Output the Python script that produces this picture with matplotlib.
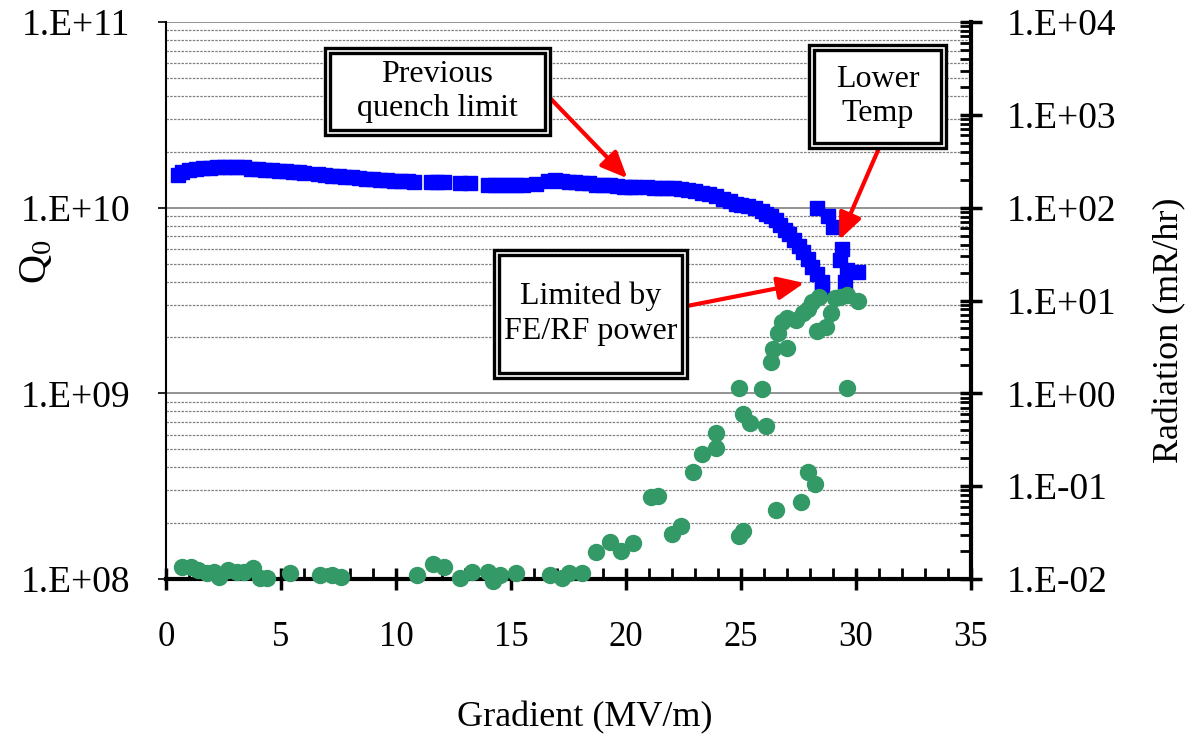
import numpy as np
import matplotlib
matplotlib.use("Agg")
import matplotlib.pyplot as plt
from matplotlib.patches import Rectangle
from matplotlib.ticker import FixedLocator, MultipleLocator, FuncFormatter

plt.rcParams['font.family'] = ['Liberation Serif', 'DejaVu Serif']
plt.rcParams['mathtext.default'] = 'regular'

# Q0 vs gradient (blue squares)
q_grad = [0.5, 0.7, 1.0, 1.3, 1.6, 1.9, 2.2, 2.5, 2.8, 3.1, 3.4, 3.7, 4.0, 4.3, 4.6,
          4.9, 5.2, 5.5, 5.8, 6.0, 6.6, 6.9, 7.2, 7.5, 7.8, 8.1, 8.4, 8.7, 9.0, 9.3,
          9.6, 9.9, 10.2, 10.5, 10.8, 11.5, 11.8, 12.1, 12.8, 13.2, 14.0, 14.3, 14.6,
          14.9, 15.2, 15.5, 16.1, 16.6, 16.9, 17.2, 17.5, 17.8, 18.1, 18.4, 18.7, 19.0,
          19.3, 19.6, 19.9, 20.2, 20.4, 20.9, 21.2, 21.5, 21.8, 22.1, 22.4, 22.7, 23.0,
          23.3, 23.6, 23.9, 24.2, 24.5, 24.8, 25.0, 25.3, 25.6, 25.9, 26.1, 26.3, 26.5,
          26.7, 26.9, 27.1, 27.3, 27.5, 27.7, 27.9, 28.1, 28.3, 28.5, 28.5,
          28.3, 28.8, 29.0, 29.4, 29.3, 29.6, 29.5, 30.1]
q_vals = [1.50, 1.55, 1.59, 1.62, 1.63, 1.64, 1.65, 1.66, 1.66, 1.66, 1.65, 1.62, 1.61,
          1.60, 1.59, 1.58, 1.57, 1.56, 1.55, 1.54, 1.51, 1.50, 1.49, 1.48, 1.47, 1.46,
          1.44, 1.43, 1.42, 1.41, 1.41, 1.40, 1.39, 1.39, 1.38, 1.37, 1.37, 1.37, 1.35,
          1.35, 1.32, 1.32, 1.33, 1.33, 1.33, 1.33, 1.34, 1.40, 1.41, 1.40, 1.38, 1.37,
          1.36, 1.35, 1.33, 1.32, 1.32, 1.31, 1.30, 1.30, 1.30, 1.29, 1.28, 1.28, 1.28,
          1.28, 1.26, 1.24, 1.23, 1.20, 1.18, 1.15, 1.12, 1.09, 1.05, 1.03, 1.02, 1.00,
          0.96, 0.93, 0.90, 0.86, 0.81, 0.76, 0.72, 0.67, 0.62, 0.58, 0.53, 0.48, 0.44,
          0.40, 0.37,
          1.00, 0.90, 0.79, 0.60, 0.52, 0.46, 0.40, 0.45]
q_vals = [v * 1e10 for v in q_vals]

# radiation vs gradient (green circles)
r_grad = [0.7, 1.1, 1.4, 1.8, 2.1, 2.3, 2.7, 3.1, 3.4, 3.8, 4.1, 4.4, 5.4, 6.7, 7.2,
          7.6, 10.9, 11.6, 12.1, 12.8, 13.3, 14.0, 14.2, 14.5, 15.2, 16.7, 17.2, 17.5,
          18.1, 18.7, 19.3, 19.8, 20.3, 21.1, 21.4, 22.0, 22.4, 22.9, 23.3, 23.9, 23.9,
          24.9, 25.1, 24.9, 25.1, 25.4, 25.9, 26.1, 26.5, 26.3, 26.4, 27.0, 26.6, 26.8,
          27.0, 27.4, 27.7, 27.9, 28.1, 28.4, 27.6, 27.9, 28.2, 28.3, 28.7, 28.9, 29.1,
          29.3, 29.6, 29.6, 30.1]
r_vals = [0.0135, 0.0135, 0.0125, 0.0116, 0.0119, 0.0105, 0.0125, 0.0119, 0.0119,
          0.0131, 0.0103, 0.0103, 0.0116, 0.0110, 0.0110, 0.0105, 0.0110, 0.0145,
          0.0135, 0.0103, 0.0119, 0.0119, 0.0095, 0.0110, 0.0116, 0.0110, 0.0103,
          0.0116, 0.0116, 0.0195, 0.025, 0.020, 0.0244, 0.076, 0.078, 0.0305, 0.037,
          0.142, 0.222, 0.257, 0.373, 0.029, 0.033, 1.14, 0.60, 0.48, 1.11, 0.445,
          0.055, 2.17, 3.0, 3.08, 4.46, 5.86, 6.47, 6.16, 7.3, 8.1, 9.6, 10.9, 0.0675,
          0.142, 0.105, 4.69, 5.18, 7.33, 10.6, 10.9, 11.4, 1.14, 9.9]

W, H = 1190, 735
fig = plt.figure(figsize=(W / 100, H / 100), dpi=100)
ax = fig.add_axes([166 / W, 1 - 579 / H, (971 - 166) / W, (579 - 22) / H])
ax2 = ax.twinx()


def sci_fmt(v, pos):
    return "1.E%+03d" % int(round(np.log10(v)))


# left axis
ax.set_yscale('log')
ax.set_ylim(1e8, 1e11)
ax.set_xlim(0, 35)
ax.yaxis.set_major_locator(FixedLocator([1e8, 1e9, 1e10, 1e11]))
ax.yaxis.set_major_formatter(FuncFormatter(sci_fmt))
ax.yaxis.set_minor_locator(FixedLocator([m * 10.0 ** e for e in (8, 9, 10) for m in range(2, 10)]))
ax.tick_params(axis='y', which='major', direction='out', length=6, width=1.2,
               labelsize=27, pad=20)
ax.tick_params(axis='y', which='minor', length=0)
ax.grid(True, which='major', axis='y', color='#808080', lw=1.2, ls='-')
ax.grid(True, which='minor', axis='y', color='#808080', lw=0.9, ls=(0, (2, 1)))
ax.xaxis.set_major_locator(MultipleLocator(5))
ax.xaxis.set_minor_locator(MultipleLocator(1))
ax.tick_params(axis='x', which='major', direction='inout', length=16, width=2.5,
               labelsize=25, pad=22)
ax.tick_params(axis='x', which='minor', direction='in', length=8, width=2)
ax.spines['top'].set_visible(False)
ax.spines['left'].set_linewidth(1.5)
ax.spines['bottom'].set_linewidth(3)
ax.spines['right'].set_visible(False)
ax.plot(q_grad, q_vals, 's', color='#0000FF', ms=10.5, mec='#0000FF', clip_on=False, zorder=3)

# right axis
ax2.set_yscale('log')
ax2.set_ylim(1e-2, 1e4)
ax2.yaxis.set_major_locator(FixedLocator([10.0 ** e for e in range(-2, 5)]))
ax2.yaxis.set_major_formatter(FuncFormatter(sci_fmt))
ax2.yaxis.set_minor_locator(FixedLocator([m * 10.0 ** e for e in range(-2, 4) for m in range(2, 10)]))
ax2.yaxis.set_minor_formatter(FuncFormatter(lambda v, p: ""))
ax2.tick_params(axis='y', which='major', direction='inout', length=16, width=2.5,
                labelsize=27, pad=18)
ax2.tick_params(axis='y', which='minor', direction='in', length=8, width=2)
ax2.spines['top'].set_visible(False)
ax2.spines['left'].set_visible(False)
ax2.spines['bottom'].set_visible(False)
ax2.spines['right'].set_linewidth(3)
ax2.plot(r_grad, r_vals, 'o', color='#339966', ms=11.5, mec='#339966', clip_on=False, zorder=3)

# axis titles
fig.text(585 / W, 1 - 718 / H, 'Gradient (MV/m)', ha='center', va='center', fontsize=26)
fig.text(36 / W, 1 - 262 / H, r'Q$_0$', ha='center', va='center', rotation=90, fontsize=29)
fig.text(1170 / W, 1 - 330 / H, 'Radiation (mR/hr)', ha='center', va='center',
         rotation=90, fontsize=26)


def frame_box(x0, y0, x1, y1, text):
    # double-lined text box, pixel coordinates from the top-left corner
    outer = Rectangle((x0 / W, 1 - y1 / H), (x1 - x0) / W, (y1 - y0) / H,
                      transform=fig.transFigure, fc='white', ec='black', lw=2.4, zorder=5)
    inner = Rectangle(((x0 + 5) / W, 1 - (y1 - 5) / H), (x1 - x0 - 10) / W, (y1 - y0 - 10) / H,
                      transform=fig.transFigure, fc='none', ec='black', lw=2.4, zorder=6)
    fig.add_artist(outer)
    fig.add_artist(inner)
    fig.text((x0 + x1) / 2 / W, 1 - (y0 + y1) / 2 / H, text, ha='center', va='center',
             fontsize=23, linespacing=1.25, zorder=7)


def red_arrow(px, py, gx, q):
    ax.annotate('', xy=(gx, q), xycoords='data', xytext=(px, H - py),
                textcoords='figure pixels',
                arrowprops=dict(arrowstyle='-|>,head_length=0.8,head_width=0.35',
                                color='red', lw=3, mutation_scale=20, shrinkA=0, shrinkB=0))


frame_box(325, 48, 550, 135, 'Previous\nquench limit')
frame_box(809, 45, 946, 148, 'Lower\nTemp')
frame_box(494, 250, 687, 378, 'Limited by\nFE/RF power')

red_arrow(550, 98, 20.06, 1.44e10)
red_arrow(879, 148, 29.27, 6.7e9)
red_arrow(687, 306, 27.75, 3.93e9)

fig.savefig('out.png', dpi=100)
